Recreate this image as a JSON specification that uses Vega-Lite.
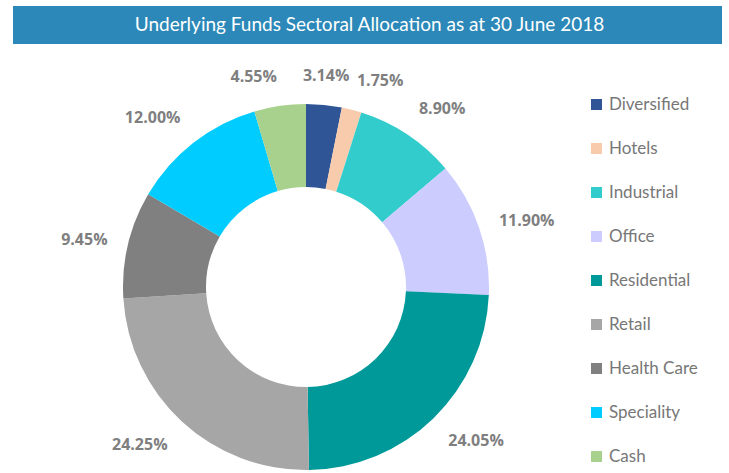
{
  "$schema": "https://vega.github.io/schema/vega-lite/v6.json",
  "padding": {"left": 13, "top": 6, "right": 0, "bottom": 0},
  "background": "white",
  "config": {"view": {"stroke": null}},
  "spacing": 60,
  "bounds": "flush",
  "vconcat": [
    {
      "width": 709,
      "height": 38,
      "view": {"fill": "#2B88B8", "stroke": null},
      "data": {"values": [{"t": "Underlying Funds Sectoral Allocation as at 30 June 2018"}]},
      "mark": {"type": "text", "color": "white", "font": "Lato", "fontSize": 19, "baseline": "middle", "align": "center", "dx": 2},
      "encoding": {"text": {"field": "t", "type": "nominal"}}
    },
    {
      "width": 586,
      "height": 366,
      "data": {"values": [
        {"sector": "Diversified", "v": 3.14, "i": 1, "label": "3.14%"},
        {"sector": "Hotels", "v": 1.75, "i": 2, "label": "1.75%"},
        {"sector": "Industrial", "v": 8.90, "i": 3, "label": "8.90%"},
        {"sector": "Office", "v": 11.90, "i": 4, "label": "11.90%"},
        {"sector": "Residential", "v": 24.05, "i": 5, "label": "24.05%"},
        {"sector": "Retail", "v": 24.25, "i": 6, "label": "24.25%"},
        {"sector": "Health Care", "v": 9.45, "i": 7, "label": "9.45%"},
        {"sector": "Speciality", "v": 12.00, "i": 8, "label": "12.00%"},
        {"sector": "Cash", "v": 4.55, "i": 9, "label": "4.55%"}
      ]},
      "encoding": {
        "theta": {"field": "v", "type": "quantitative", "stack": true},
        "order": {"field": "i", "type": "quantitative"}
      },
      "layer": [
        {
          "mark": {"type": "arc", "outerRadius": 183, "innerRadius": 100},
          "encoding": {
            "color": {
              "field": "sector", "type": "nominal",
              "scale": {
                "domain": ["Diversified", "Hotels", "Industrial", "Office", "Residential", "Retail", "Health Care", "Speciality", "Cash"],
                "range": ["#2F5597", "#F8CBAD", "#33CCCC", "#CCCCFF", "#009999", "#A6A6A6", "#808080", "#00CCFF", "#A9D18E"]
              },
              "legend": {
                "title": null,
                "orient": "none",
                "legendX": 575,
                "legendY": 90,
                "symbolType": "square",
                "symbolSize": 121,
                "symbolStrokeWidth": 0,
                "labelFont": "Lato",
                "labelFontSize": 17,
                "labelColor": "#777777",
                "labelOffset": 4,
                "rowPadding": 26,
                "labelLimit": 200
              }
            }
          }
        },
        {
          "transform": [{"joinaggregate": [{"op": "sum", "field": "v", "as": "tot"}]}],
          "mark": {
            "type": "text", "radius": 204, "font": "Open Sans", "fontWeight": "bold", "fontSize": 16, "color": "#7F7F7F",
            "align": {"expr": "sin(PI*(datum.v_start+datum.v_end)/datum.tot) > 0.12 ? 'left' : (sin(PI*(datum.v_start+datum.v_end)/datum.tot) < -0.12 ? 'right' : 'center')"},
            "baseline": {"expr": "cos(PI*(datum.v_start+datum.v_end)/datum.tot) > 0.5 ? 'bottom' : (cos(PI*(datum.v_start+datum.v_end)/datum.tot) < -0.5 ? 'top' : 'middle')"}
          },
          "encoding": {"text": {"field": "label", "type": "nominal"}}
        }
      ]
    }
  ]
}
